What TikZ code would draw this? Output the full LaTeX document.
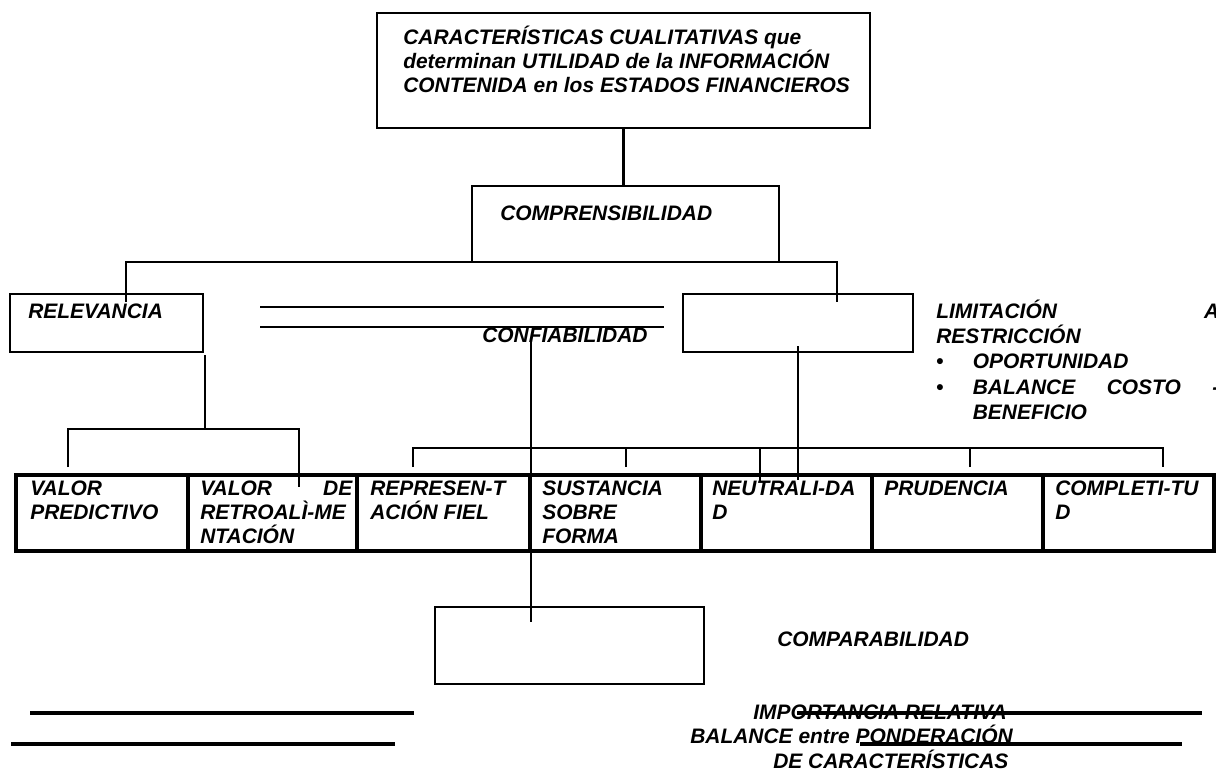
\documentclass[tikz,border=0pt]{standalone}
\usepackage{fontspec}
\setmainfont{Liberation Sans}
\begin{document}
\begin{tikzpicture}[
x=0.025cm,y=-0.025cm,
box/.style={rectangle,draw,line width=1.7pt,inner sep=0pt,outer sep=0pt},
cell/.style={rectangle,draw,line width=2.6pt,inner sep=0pt,outer sep=0pt,minimum height=1.9cm},
conn/.style={line width=1.7pt},
rule/.style={line width=2.3pt},
lab/.style={font=\fontsize{14.9}{16.8}\selectfont\bfseries\itshape,inner sep=0pt,anchor=north west,align=left},
tag/.style={lab,anchor=base west}
]

\path[use as bounding box,fill=white] (0,0) rectangle (1216,772);

\node[box,minimum width=12.325cm,minimum height=2.875cm] (titulo) at (623.5,70.5) {};
\node[box,minimum width=7.675cm,minimum height=1.9cm] (compr) at (625.5,224) {};
\node[box,minimum width=4.825cm,minimum height=1.45cm] (relev) at (106.5,323) {};
\node[box,minimum width=5.75cm,minimum height=1.45cm] (confb) at (798,323) {};
\node[box,minimum width=6.725cm,minimum height=1.925cm] (compa) at (569.5,645.5) {};

\node[cell,minimum width=4.3cm] (vpred) at (102,513) {};
\node[cell,minimum width=4.225cm] (vretro) at (272.5,513) {};
\node[cell,minimum width=4.325cm] (repr) at (443.5,513) {};
\node[cell,minimum width=4.275cm] (sust) at (615.5,513) {};
\node[cell,minimum width=4.275cm] (neutr) at (786.5,513) {};
\node[cell,minimum width=4.275cm] (prud) at (957.5,513) {};
\node[cell,minimum width=4.275cm] (compl) at (1128.5,513) {};

\node[lab] (titulo-t) at (403,26) {\rule{0pt}{.7\baselineskip}CARACTERÍSTICAS CUALITATIVAS que\\determinan UTILIDAD de la INFORMACIÓN\\CONTENIDA en los ESTADOS FINANCIEROS};
\node[tag] (compr-t) at (500,220) {COMPRENSIBILIDAD};
\node[tag] (relev-t) at (28,318) {RELEVANCIA};
\node[tag] (conf-t) at (482,342) {CONFIABILIDAD};
\node[lab,font=\fontsize{14.9}{18}\selectfont\bfseries\itshape,text width=7.075cm] (lim-t) at (936,299.3) {\rule{0pt}{.7\baselineskip}LIMITACIÓN\hfill A\\RESTRICCIÓN\\\makebox[26pt][l]{\upshape\textbullet}OPORTUNIDAD\\\makebox[26pt][l]{\upshape\textbullet}BALANCE\hfill COSTO\hfill -\\\hspace*{26pt}BENEFICIO};

\node[lab] (vpred-t) at (30,479) {\rule{0pt}{.7\baselineskip}VALOR\\PREDICTIVO};
\node[lab,text width=3.8cm] (vretro-t) at (200,479) {\rule{0pt}{.7\baselineskip}VALOR\hfill DE\\RETROALÌ-ME\\NTACIÓN};
\node[lab] (repr-t) at (370,479) {\rule{0pt}{.7\baselineskip}REPRESEN-T\\ACIÓN FIEL};
\node[lab] (sust-t) at (542,479) {\rule{0pt}{.7\baselineskip}SUSTANCIA\\SOBRE\\FORMA};
\node[lab] (neutr-t) at (712,479) {\rule{0pt}{.7\baselineskip}NEUTRALI-DA\\D};
\node[tag] (prud-t) at (884,495.5) {PRUDENCIA};
\node[lab] (compl-t) at (1055,479) {\rule{0pt}{.7\baselineskip}COMPLETI-TU\\D};

\node[tag] (compa-t) at (777,646) {COMPARABILIDAD};
\node[tag] (imp-t) at (753,719) {IMPORTANCIA RELATIVA};
\node[tag] (bal-t) at (690,743.5) {BALANCE entre PONDERACIÓN};
\node[tag] (car-t) at (773,768) {DE CARACTERÍSTICAS};

\coordinate (relev-in) at (126,302);
\coordinate (confb-in) at (837,302);
\coordinate (relev-out) at (205,355);
\coordinate (relev-j) at (205,429);
\coordinate (vpred-in) at (68,467);
\coordinate (vretro-in) at (299,487);
\coordinate (conf-out) at (531,338);
\coordinate (compa-in) at (531,622);
\coordinate (confb-out) at (798,346);
\coordinate (confb-end) at (798,480);
\coordinate (brk-l) at (413,448);
\coordinate (brk-r) at (1163,448);
\coordinate (repr-in) at (413,467);
\coordinate (sust-in) at (626,467);
\coordinate (neutr-in) at (760,482);
\coordinate (prud-in) at (970,467);
\coordinate (compl-in) at (1163,467);

\draw[conn] (titulo.south) -- (titulo.south |- compr.north);
\draw[conn] (relev-in) |- (compr.south) -| (confb-in);
\draw[conn] (relev-out) -- (relev-j);
\draw[conn] (vpred-in) |- (relev-j) -| (vretro-in);
\draw[conn] (conf-out) -- (compa-in);
\draw[conn] (confb-out) -- (confb-end);
\draw[conn] (repr-in) -- (brk-l) -- (brk-r) -- (compl-in);
\draw[conn] (sust-in) -- (sust-in |- brk-l);
\draw[conn] (neutr-in) -- (neutr-in |- brk-l);
\draw[conn] (prud-in) -- (prud-in |- brk-l);

\draw[conn] (260,307) -- (664,307);
\draw[conn] (260,327) -- (664,327);

\draw[rule] (30,713) -- (414,713);
\draw[rule] (11,744) -- (395,744);
\draw[rule] (797,713) -- (1202,713);
\draw[rule] (860,744) -- (1182,744);

\end{tikzpicture}
\end{document}
